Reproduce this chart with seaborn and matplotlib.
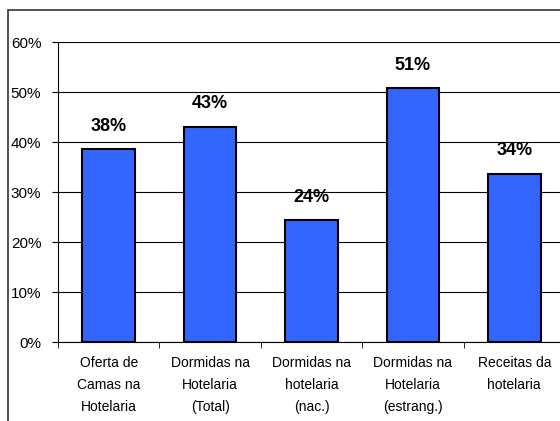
import numpy as np
import pandas as pd
import matplotlib
matplotlib.use("Agg")
import matplotlib.pyplot as plt
import seaborn as sns
from matplotlib.patches import Rectangle
from matplotlib.ticker import FixedLocator, PercentFormatter

categorias = ["Oferta de\nCamas na\nHotelaria",
              "Dormidas na\nHotelaria\n(Total)",
              "Dormidas na\nhotelaria\n(nac.)",
              "Dormidas na\nHotelaria\n(estrang.)",
              "Receitas da\nhotelaria"]
valores = [38.6, 43.1, 24.4, 50.8, 33.7]
rotulos = ["38%", "43%", "24%", "51%", "34%"]

sns.set_style("white", {"text.color": "black", "xtick.color": "black",
                        "ytick.color": "black", "axes.labelcolor": "black"})
plt.rcParams['font.family'] = ['Liberation Sans', 'DejaVu Sans']

df = pd.DataFrame({"cat": categorias, "val": valores})

fig = plt.figure(figsize=(5.6, 4.21), dpi=100)
ax = fig.add_axes([58 / 560, 1 - 342 / 421, (565 - 58) / 560, 300 / 421])

# moldura exterior do gráfico
fig.patches.append(Rectangle((8 / 560, -0.05), 1.1, 1 - 10 / 421 + 0.05,
                             transform=fig.transFigure, fill=False,
                             edgecolor="#333333", linewidth=1.2, zorder=0))

sns.barplot(data=df, x="cat", y="val", color="#3366FF", width=0.52,
            edgecolor="black", linewidth=1.5, saturation=1, ax=ax, zorder=3)

for i, (v, r) in enumerate(zip(valores, rotulos)):
    ax.annotate(r, (i, v), xytext=(0, 16.5), textcoords="offset points",
                ha="center", va="center", fontsize=13, fontweight="bold",
                color="black")

ax.set_ylim(0, 60)
ax.set_xlim(-0.5, 4.5)
ax.set_yticks(np.arange(0, 61, 10))
ax.yaxis.set_major_formatter(PercentFormatter(decimals=0))
ax.yaxis.grid(True, color="black", linewidth=0.8, zorder=0)
ax.set_axisbelow(True)

ax.xaxis.set_minor_locator(FixedLocator(np.arange(-0.5, 4.6, 1)))
ax.tick_params(axis="x", which="major", length=0, pad=10, labelsize=10)
ax.tick_params(axis="x", which="minor", length=4, direction="out", bottom=True)
ax.tick_params(axis="y", length=4, direction="out", left=True, labelsize=11, pad=8)
for lab in ax.get_xticklabels():
    lab.set_linespacing(1.75)

for s in ["top", "right"]:
    ax.spines[s].set_visible(False)
ax.spines["left"].set_color("black")
ax.spines["bottom"].set_color("black")
ax.set_xlabel("")
ax.set_ylabel("")

fig.savefig("out.png", dpi=100)
